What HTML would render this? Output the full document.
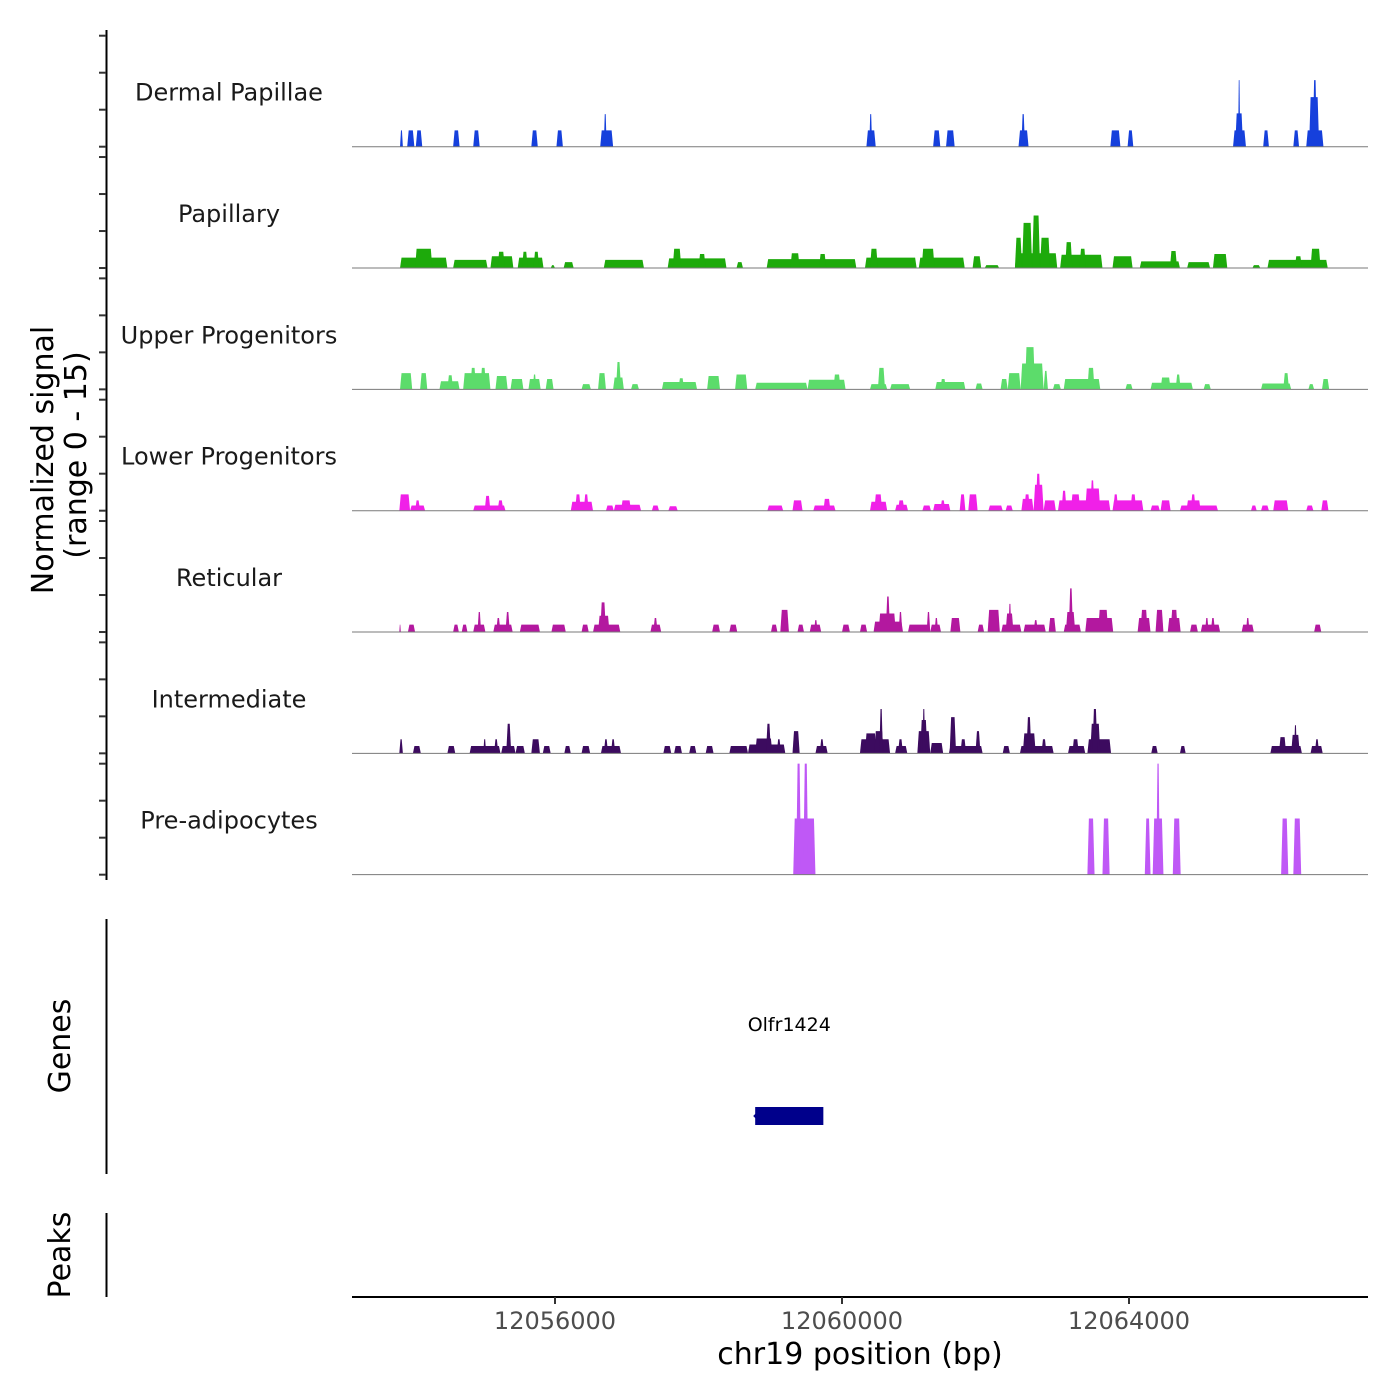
<!DOCTYPE html>
<html><head><meta charset="utf-8">
<style>
html,body{margin:0;padding:0;background:#fff;}
svg{display:block;font-family:"DejaVu Sans","Liberation Sans",sans-serif;}
</style></head>
<body>
<svg id="chart" width="1400" height="1400" viewBox="0 0 1400 1400" xmlns="http://www.w3.org/2000/svg">
<g id="tracks"></g>
<g id="yaxis"></g>
<text transform="translate(53,460) rotate(-90)" text-anchor="middle" font-size="30" fill="#000">Normalized signal</text>
<text transform="translate(86,455) rotate(-90)" text-anchor="middle" font-size="30" fill="#000">(range 0 - 15)</text>
<line x1="106.5" y1="919" x2="106.5" y2="1174" stroke="#000" stroke-width="2"/>
<text transform="translate(70,1046) rotate(-90)" text-anchor="middle" font-size="30" fill="#000">Genes</text>
<line x1="106.5" y1="1213" x2="106.5" y2="1297" stroke="#000" stroke-width="2"/>
<text transform="translate(70,1255) rotate(-90)" text-anchor="middle" font-size="30" fill="#000">Peaks</text>
<g id="genes"></g>
<g id="xaxis"></g>
<text x="860" y="1364" text-anchor="middle" font-size="30" fill="#000">chr19 position (bp)</text>
</svg>
<script>
// x positions in kb, heights in normalized signal units (0-15)
const trackNames = ["Dermal Papillae","Papillary","Upper Progenitors","Lower Progenitors","Reticular","Intermediate","Pre-adipocytes"];
const trackColors = ["#1640dc","#1daa0b","#5cdc6b","#f020e8","#b3189f","#3c0b5f","#bf58f6"];
const xTicks = [12056000,12060000,12064000];
const xTickLabels = ["12056000","12060000","12064000"];
const yTicks = [0,5,10,15];
const geneStart = 12058.79, geneEnd = 12059.74, geneName = "Olfr1424";

const dermalPapillae = [[12053.84,12053.88,2.2],[12053.94,12054.04,2.2],[12054.06,12054.15,2.2],[12054.58,12054.67,2.2],[12054.86,12054.95,2.2],[12055.67,12055.76,2.2],[12056.02,12056.11,2.2],[12056.63,12056.81,2.2],[12056.68,12056.72,4.4],[12060.34,12060.47,2.2],[12060.38,12060.42,4.4],[12061.27,12061.37,2.2],[12061.45,12061.57,2.2],[12062.46,12062.60,2.2],[12062.50,12062.55,4.4],[12063.74,12063.88,2.2],[12063.98,12064.06,2.2],[12065.45,12065.63,2.2],[12065.48,12065.59,4.5],[12065.52,12065.55,9.0],[12065.87,12065.95,2.2],[12066.29,12066.37,2.2],[12066.47,12066.71,2.2],[12066.51,12066.65,6.7],[12066.56,12066.62,9.0]];

const papillary = [[12053.84,12054.50,1.4],[12054.05,12054.29,2.6],[12054.58,12055.06,1.1],[12055.10,12055.42,1.6],[12055.20,12055.30,2.2],[12055.48,12055.84,1.4],[12055.54,12055.62,2.2],[12055.70,12055.78,2.2],[12055.94,12056.00,0.4],[12056.12,12056.26,0.8],[12056.68,12057.24,1.1],[12057.57,12058.39,1.3],[12057.64,12057.76,2.6],[12058.00,12058.10,1.9],[12058.53,12058.62,0.8],[12058.95,12060.20,1.2],[12059.28,12059.41,2.0],[12059.68,12059.78,1.9],[12060.32,12061.04,1.4],[12060.39,12060.50,2.6],[12061.07,12061.71,1.4],[12061.11,12061.29,2.6],[12061.82,12061.94,1.6],[12061.99,12062.19,0.4],[12062.41,12063.00,2.0],[12062.41,12062.51,4.1],[12062.51,12062.65,6.1],[12062.65,12062.76,7.1],[12062.76,12062.90,4.1],[12063.04,12063.63,1.8],[12063.11,12063.21,3.5],[12063.31,12063.40,2.6],[12063.77,12064.05,1.6],[12064.15,12064.71,0.9],[12064.57,12064.67,2.3],[12064.81,12065.13,0.8],[12065.17,12065.37,1.9],[12065.72,12065.83,0.4],[12065.93,12066.77,1.1],[12066.31,12066.41,1.6],[12066.53,12066.67,2.6]];

const upperProgenitors = [[12053.84,12054.01,2.2],[12054.12,12054.22,2.2],[12054.39,12054.67,1.1],[12054.50,12054.58,1.9],[12054.72,12055.10,2.2],[12054.82,12054.90,2.9],[12054.96,12055.04,2.9],[12055.17,12055.34,1.8],[12055.38,12055.56,1.4],[12055.63,12055.80,1.4],[12055.69,12055.74,2.0],[12055.87,12055.98,1.4],[12056.37,12056.50,0.7],[12056.60,12056.71,2.2],[12056.81,12056.96,1.6],[12056.85,12056.92,3.7],[12057.06,12057.17,0.7],[12057.49,12057.98,1.0],[12057.72,12057.80,1.5],[12058.12,12058.30,1.8],[12058.51,12058.68,2.0],[12058.79,12059.52,0.9],[12059.52,12060.05,1.3],[12059.88,12059.98,2.0],[12060.39,12060.63,0.7],[12060.50,12060.60,2.9],[12060.67,12060.95,0.7],[12061.30,12061.72,1.0],[12061.37,12061.45,1.4],[12061.86,12061.96,0.8],[12062.21,12062.31,1.4],[12062.31,12062.49,2.2],[12062.49,12062.81,3.5],[12062.55,12062.69,5.7],[12062.81,12062.87,2.5],[12062.94,12063.05,0.7],[12063.09,12063.60,1.4],[12063.42,12063.52,2.9],[12063.95,12064.05,0.7],[12064.30,12064.89,0.9],[12064.44,12064.58,1.6],[12064.65,12064.72,2.0],[12065.04,12065.14,0.7],[12065.84,12066.26,0.8],[12066.15,12066.23,2.2],[12066.50,12066.58,0.7],[12066.69,12066.79,1.4]];

const lowerProgenitors = [[12053.83,12053.98,2.2],[12053.98,12054.19,0.7],[12054.05,12054.12,1.4],[12054.86,12055.31,0.7],[12055.02,12055.10,2.0],[12055.20,12055.28,1.4],[12056.22,12056.53,1.2],[12056.28,12056.36,2.2],[12056.40,12056.47,2.2],[12056.71,12056.82,0.7],[12056.82,12057.20,0.8],[12056.92,12057.06,1.4],[12057.35,12057.45,0.7],[12057.58,12057.71,0.6],[12058.96,12059.18,0.7],[12059.31,12059.45,1.4],[12059.60,12059.91,0.7],[12059.74,12059.84,1.6],[12060.39,12060.63,1.2],[12060.45,12060.56,2.2],[12060.74,12060.92,0.8],[12060.78,12060.87,1.4],[12061.12,12061.24,0.7],[12061.27,12061.51,0.9],[12061.37,12061.44,1.4],[12061.64,12061.72,2.2],[12061.76,12061.89,2.2],[12062.04,12062.24,0.7],[12062.28,12062.38,0.7],[12062.50,12062.67,1.6],[12062.54,12062.62,2.2],[12062.67,12062.81,3.5],[12062.70,12062.77,5.0],[12062.81,12062.98,1.4],[12063.01,12063.74,1.4],[12063.06,12063.13,2.7],[12063.19,12063.32,2.2],[12063.39,12063.60,3.0],[12063.46,12063.52,4.1],[12063.77,12064.20,1.4],[12063.78,12063.85,2.2],[12064.02,12064.10,2.2],[12064.30,12064.43,0.7],[12064.44,12064.58,1.4],[12064.71,12065.24,0.7],[12064.80,12065.00,1.4],[12064.86,12064.93,2.2],[12065.70,12065.78,0.7],[12065.84,12065.95,0.7],[12066.01,12066.22,1.4],[12066.47,12066.57,0.7],[12066.68,12066.78,1.4]];

const reticular = [[12053.83,12053.85,1.0],[12053.95,12054.05,1.0],[12054.58,12054.66,1.0],[12054.70,12054.78,1.0],[12054.86,12055.03,1.0],[12054.92,12054.97,2.7],[12055.14,12055.41,1.0],[12055.18,12055.24,1.9],[12055.31,12055.37,2.7],[12055.51,12055.79,1.0],[12055.95,12056.15,1.0],[12056.37,12056.47,1.0],[12056.53,12056.91,1.0],[12056.60,12056.76,2.2],[12056.63,12056.71,4.0],[12057.33,12057.48,1.0],[12057.37,12057.43,1.9],[12058.19,12058.30,1.0],[12058.43,12058.54,1.0],[12059.01,12059.10,1.0],[12059.14,12059.26,3.0],[12059.38,12059.47,1.0],[12059.55,12059.71,1.0],[12059.61,12059.66,1.6],[12060.00,12060.11,1.0],[12060.25,12060.35,1.0],[12060.44,12060.85,1.4],[12060.51,12060.75,2.5],[12060.61,12060.67,4.8],[12060.79,12060.84,2.7],[12060.92,12061.23,1.0],[12061.18,12061.23,2.7],[12061.23,12061.38,1.0],[12061.29,12061.34,1.9],[12061.51,12061.65,1.9],[12061.89,12061.98,1.0],[12062.03,12062.20,3.0],[12062.22,12062.50,1.0],[12062.28,12062.39,2.5],[12062.32,12062.36,3.8],[12062.53,12062.84,1.0],[12062.67,12062.73,1.6],[12062.88,12062.98,1.9],[12063.09,12063.33,1.0],[12063.12,12063.25,2.7],[12063.16,12063.22,5.9],[12063.39,12063.78,1.9],[12063.57,12063.71,3.0],[12064.12,12064.30,1.9],[12064.16,12064.26,3.0],[12064.37,12064.48,3.0],[12064.54,12064.72,1.9],[12064.58,12064.68,3.0],[12064.85,12064.96,1.0],[12065.00,12065.27,1.0],[12065.06,12065.11,1.9],[12065.14,12065.20,1.9],[12065.57,12065.74,1.0],[12065.63,12065.68,1.9],[12066.58,12066.68,1.0]];

const intermediate = [[12053.83,12053.88,1.9],[12054.02,12054.13,1.0],[12054.50,12054.61,1.0],[12054.81,12055.24,1.0],[12055.00,12055.04,1.9],[12055.15,12055.21,1.9],[12055.25,12055.45,1.0],[12055.32,12055.39,4.0],[12055.45,12055.58,1.0],[12055.67,12055.79,1.9],[12055.83,12055.94,1.0],[12056.13,12056.22,1.0],[12056.37,12056.49,1.0],[12056.64,12056.92,1.0],[12056.68,12056.74,1.9],[12056.78,12056.84,1.9],[12057.51,12057.62,1.0],[12057.66,12057.77,1.0],[12057.87,12057.97,1.0],[12058.10,12058.21,1.0],[12058.43,12058.69,1.0],[12058.69,12059.21,1.2],[12058.79,12059.03,2.0],[12058.94,12059.01,4.0],[12059.09,12059.15,1.9],[12059.31,12059.41,3.0],[12059.63,12059.80,1.0],[12059.69,12059.75,1.9],[12060.25,12060.67,1.9],[12060.32,12060.48,2.7],[12060.45,12060.58,3.0],[12060.52,12060.57,6.0],[12060.74,12060.91,1.0],[12060.78,12060.85,1.9],[12061.05,12061.23,3.0],[12061.09,12061.19,4.5],[12061.12,12061.16,6.0],[12061.23,12061.41,1.4],[12061.49,12061.96,1.0],[12061.50,12061.59,4.9],[12061.65,12061.73,1.9],[12061.86,12061.93,3.0],[12062.24,12062.34,1.0],[12062.48,12062.95,1.0],[12062.52,12062.70,2.7],[12062.57,12062.64,4.9],[12062.78,12062.85,1.9],[12063.15,12063.39,1.0],[12063.21,12063.30,1.9],[12063.42,12063.75,1.9],[12063.46,12063.60,4.0],[12063.49,12063.56,6.0],[12064.31,12064.40,1.0],[12064.71,12064.79,1.0],[12065.97,12066.41,1.0],[12066.09,12066.19,2.2],[12066.26,12066.38,2.5],[12066.30,12066.34,3.8],[12066.53,12066.70,1.0],[12066.59,12066.65,1.9]];

const preAdipocytes = [[12059.32,12059.63,7.6],[12059.36,12059.43,15],[12059.46,12059.53,15],[12063.42,12063.52,7.6],[12063.63,12063.73,7.6],[12064.22,12064.30,7.6],[12064.33,12064.48,7.6],[12064.38,12064.43,15],[12064.61,12064.72,7.6],[12066.12,12066.22,7.6],[12066.29,12066.40,7.6]];

const trackData = [dermalPapillae,papillary,upperProgenitors,lowerProgenitors,reticular,intermediate,preAdipocytes];

const NS="http://www.w3.org/2000/svg";
const plotL=352, plotR=1368;
function xScale(kb){ return 555 + (kb - 12056) * 71.75; }
function xScaleBp(bp){ return xScale(bp/1000); }
const firstBase=146.7, trackStep=121.33, unitPx=7.4;
function baseY(t){ return firstBase + t*trackStep; }
function yScale(t,v){ return baseY(t) - v*unitPx; }
function mk(tag,attrs,parent){ const e=document.createElementNS(NS,tag); for(const k in attrs) e.setAttribute(k,attrs[k]); parent.appendChild(e); return e; }

const tracksG=document.getElementById('tracks');
trackData.forEach((segs,t)=>{
  const g=mk('g',{},tracksG);
  
  
  const lbl=mk('text',{x:229,y:baseY(t)-46,'text-anchor':'middle','font-size':24,fill:'#1a1a1a'},g);
  lbl.textContent=trackNames[t];
  
  
  segs.forEach(s=>{
    const x0=xScale(s[0]), x1=Math.max(xScale(s[1]),x0+1.5), b=baseY(t), y=yScale(t,s[2]);
    const d=Math.min(1.5,(x1-x0)/3);
    const p=mk('polygon',{points:`${x0},${b} ${x0+d},${y} ${x1-d},${y} ${x1},${b}`,fill:trackColors[t]},g);
    
    
  });
  const bl=mk('line',{x1:plotL,x2:plotR,y1:baseY(t),y2:baseY(t),stroke:'#7a7a7a','stroke-width':1},g);
  
  
});

const yG=document.getElementById('yaxis');
const al=mk('line',{x1:106.5,x2:106.5,y1:30,y2:880,stroke:'#000','stroke-width':2},yG);


for(let t=0;t<trackNames.length;t++){
  yTicks.forEach(v=>{
    const y=yScale(t,v);
    const tk=mk('line',{x1:99,x2:106,y1:y,y2:y,stroke:'#333','stroke-width':2},yG);
    
    
  });
}

const gG=document.getElementById('genes');
const gl=mk('text',{x:(xScale(geneStart)+xScale(geneEnd))/2,y:1031,'text-anchor':'middle','font-size':19,fill:'#000'},gG);
gl.textContent=geneName;


const gr=mk('rect',{x:xScale(geneStart),y:1107,width:xScale(geneEnd)-xScale(geneStart),height:18,fill:'#00008b'},gG);


const ga=mk('polygon',{points:`${xScale(geneStart)-2},1116 ${xScale(geneStart)+2},1112 ${xScale(geneStart)+2},1120`,fill:'#00008b'},gG);



const xG=document.getElementById('xaxis');
const xl=mk('line',{x1:plotL,x2:plotR,y1:1297,y2:1297,stroke:'#000','stroke-width':2},xG);


xTicks.forEach((v,i)=>{
  const x=xScaleBp(v);
  const tk=mk('line',{x1:x,x2:x,y1:1297,y2:1304,stroke:'#333','stroke-width':2},xG);
  
  
  const tl=mk('text',{x:x,y:1329,'text-anchor':'middle','font-size':24,fill:'#4d4d4d'},xG);
  tl.textContent=xTickLabels[i];
  
  
});
</script>
</body></html>
